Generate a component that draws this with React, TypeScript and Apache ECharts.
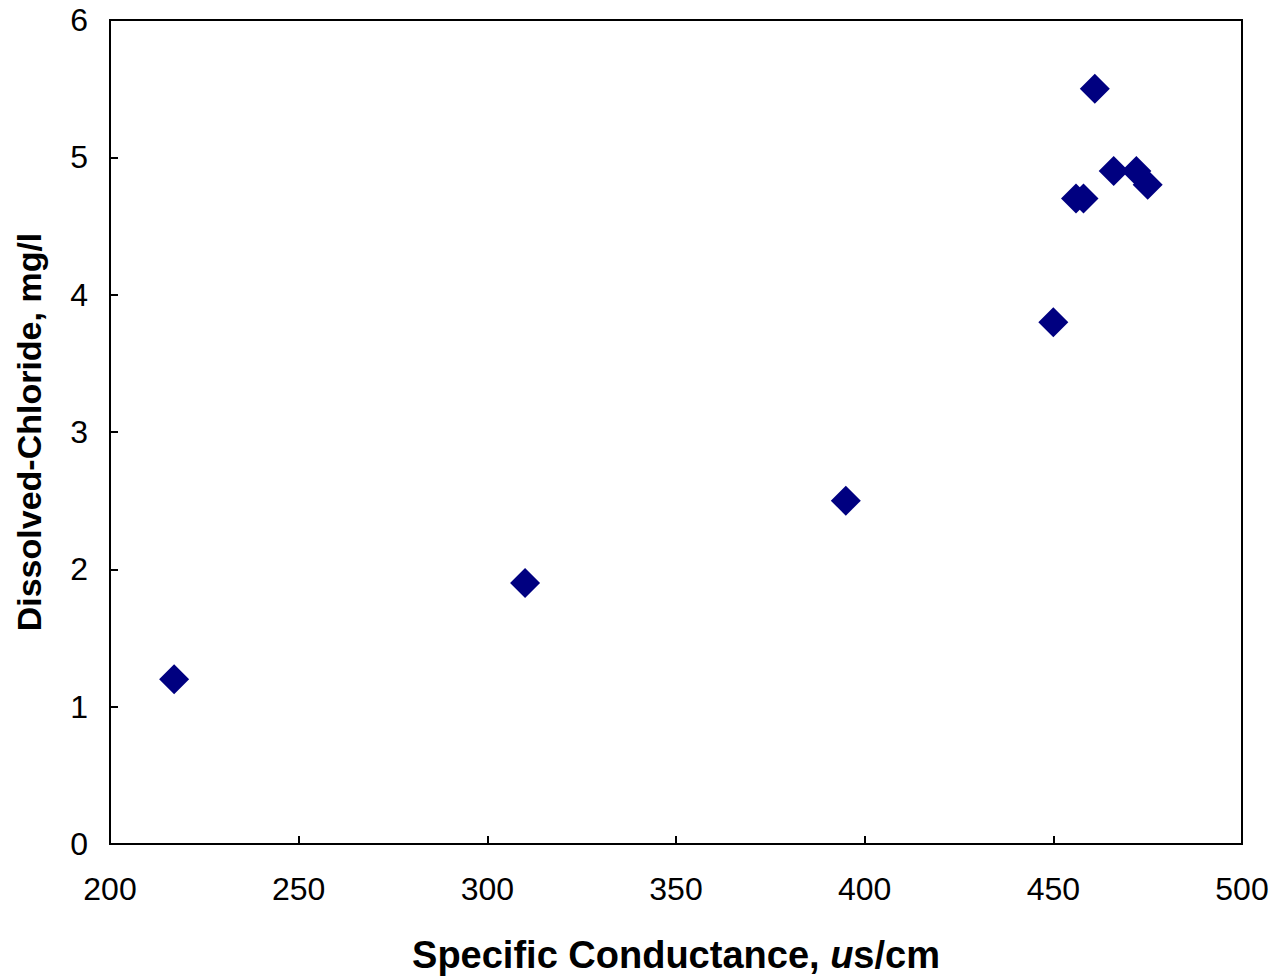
import React, { useEffect, useRef } from "react";
import * as echarts from "echarts";

const conductance = [217, 310, 395, 450, 456, 458, 461, 466, 472, 475];
const chloride = [1.2, 1.9, 2.5, 3.8, 4.7, 4.7, 5.5, 4.9, 4.9, 4.8];
const xTicks = [200, 250, 300, 350, 400, 450, 500];
const yTicks = [0, 1, 2, 3, 4, 5, 6];

export default function App() {
  const ref = useRef<HTMLDivElement>(null);
  useEffect(() => {
    if (!ref.current) return;
    const chart = echarts.init(ref.current, null, { renderer: "svg" });
    const font = "'Liberation Sans', Arial, sans-serif";
    chart.setOption({
      animation: false,
      backgroundColor: "#ffffff",
      grid: {
        left: 110, right: 35, top: 20, bottom: 136,
        show: true, borderColor: "#000", borderWidth: 2, backgroundColor: "transparent",
        outerBoundsMode: "none", containLabel: false,
      },
      xAxis: {
        type: "value",
        min: xTicks[0],
        max: xTicks[xTicks.length - 1],
        interval: 50,
        axisLine: { show: true, lineStyle: { color: "#000", width: 2 } },
        axisTick: { show: true, inside: true, length: 8, lineStyle: { color: "#000", width: 2 } },
        splitLine: { show: false },
        axisLabel: { color: "#000", fontSize: 32, fontFamily: font, margin: 29 },
        name: "Specific Conductance, {i|u}s/cm",
        nameLocation: "middle",
        nameGap: 92,
        nameTextStyle: {
          color: "#000", fontSize: 38, fontWeight: "bold", fontFamily: font,
          rich: { i: { fontStyle: "italic", fontWeight: "bold", fontSize: 38, fontFamily: font, color: "#000" } },
        },
      },
      yAxis: {
        type: "value",
        min: yTicks[0],
        max: yTicks[yTicks.length - 1],
        interval: 1,
        axisLine: { show: true, lineStyle: { color: "#000", width: 2 } },
        axisTick: { show: true, inside: true, length: 8, lineStyle: { color: "#000", width: 2 } },
        splitLine: { show: false },
        axisLabel: { color: "#000", fontSize: 32, fontFamily: font, margin: 22 },
        name: "Dissolved-Chloride, mg/l",
        nameLocation: "middle",
        nameGap: 64,
        nameTextStyle: { color: "#000", fontSize: 34, fontWeight: "bold", fontFamily: font },
      },
      series: [
        {
          type: "scatter",
          symbol: "diamond",
          symbolSize: 30,
          itemStyle: { color: "#000080", opacity: 1 },
          data: conductance.map((x, i) => [x, chloride[i]]),
        },
      ],
    });
    return () => chart.dispose();
  }, []);
  return <div ref={ref} style={{ position: "fixed", left: 0, top: 0, width: 1277, height: 980 }} />;
}
